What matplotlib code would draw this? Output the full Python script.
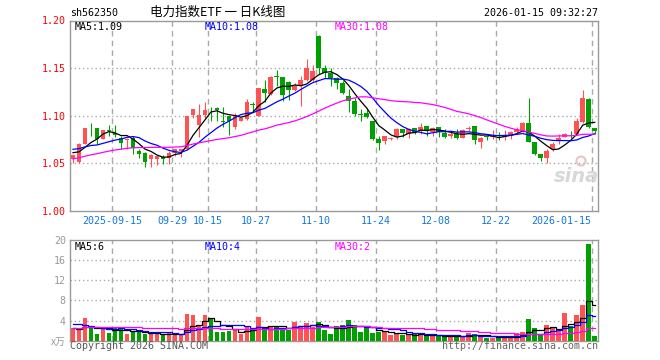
import matplotlib
matplotlib.use("Agg")
import matplotlib.pyplot as plt
from matplotlib.patches import Ellipse
import numpy as np
import pandas as pd

plt.rcParams['lines.scale_dashes'] = False

# daily K-line, 2025-09-04 .. 2026-01-15 (88 sessions)
opens = [1.0542, 1.0510, 1.0705, 1.0862, 1.0865, 1.0757, 1.0840, 1.0820, 1.0764, 1.0745,
         1.0760, 1.0628, 1.0607, 1.0540, 1.0540, 1.0562, 1.0549, 1.0611, 1.0625, 1.0650,
         1.1008, 1.0897, 1.1010, 1.1070, 1.1076, 1.0940, 1.1000, 1.0885, 1.0948, 1.0965,
         1.1118, 1.1000, 1.1278, 1.1226, 1.1408, 1.1406, 1.1358, 1.1267, 1.1323, 1.1372,
         1.1372, 1.1833, 1.1497, 1.1444, 1.1392, 1.1347, 1.1208, 1.1156, 1.1010, 1.1024,
         1.0941, 1.0753, 1.0733, 1.0753, 1.0774, 1.0854, 1.0809, 1.0868, 1.0837, 1.0889,
         1.0826, 1.0878, 1.0816, 1.0781, 1.0802, 1.0764, 1.0857, 1.0889, 1.0722, 1.0776,
         1.0774, 1.0790, 1.0774, 1.0781, 1.0826, 1.0844, 1.0920, 1.0722, 1.0594, 1.0559,
         1.0649, 1.0733, 1.0774, 1.0805, 1.0802, 1.0931, 1.1174, 1.0868]
highs = [1.0590, 1.0712, 1.0870, 1.0924, 1.0870, 1.0850, 1.0906, 1.0896, 1.0790, 1.0760,
         1.0790, 1.0650, 1.0618, 1.0595, 1.0575, 1.0587, 1.0628, 1.0650, 1.0650, 1.1000,
         1.1070, 1.1120, 1.1139, 1.1090, 1.1090, 1.1090, 1.1000, 1.1025, 1.0990, 1.1174,
         1.1140, 1.1290, 1.1370, 1.1415, 1.1476, 1.1410, 1.1360, 1.1345, 1.1417, 1.1590,
         1.1530, 1.1850, 1.1530, 1.1500, 1.1405, 1.1365, 1.1280, 1.1190, 1.1070, 1.1085,
         1.0945, 1.0788, 1.0790, 1.0774, 1.0868, 1.0858, 1.0872, 1.0870, 1.0920, 1.0892,
         1.0885, 1.0880, 1.0860, 1.0826, 1.0854, 1.0861, 1.0890, 1.0892, 1.0770, 1.0790,
         1.0844, 1.0830, 1.0850, 1.0840, 1.0878, 1.0930, 1.1184, 1.0725, 1.0597, 1.0653,
         1.0722, 1.0802, 1.0815, 1.0837, 1.0976, 1.1267, 1.1180, 1.0870]
lows = [1.0500, 1.0500, 1.0700, 1.0790, 1.0700, 1.0750, 1.0785, 1.0780, 1.0650, 1.0650,
        1.0600, 1.0550, 1.0460, 1.0455, 1.0480, 1.0490, 1.0490, 1.0570, 1.0560, 1.0640,
        1.0970, 1.0770, 1.0980, 1.0940, 1.0940, 1.0878, 1.0800, 1.0860, 1.0940, 1.0955,
        1.1035, 1.0995, 1.1140, 1.1220, 1.1313, 1.1156, 1.1163, 1.1260, 1.1097, 1.1365,
        1.1365, 1.1440, 1.1400, 1.1310, 1.1280, 1.1230, 1.1035, 1.1000, 1.0940, 1.0975,
        1.0747, 1.0642, 1.0700, 1.0740, 1.0757, 1.0774, 1.0767, 1.0802, 1.0802, 1.0785,
        1.0790, 1.0774, 1.0764, 1.0764, 1.0750, 1.0760, 1.0837, 1.0700, 1.0660, 1.0745,
        1.0750, 1.0745, 1.0740, 1.0750, 1.0809, 1.0826, 1.0720, 1.0590, 1.0524, 1.0503,
        1.0629, 1.0698, 1.0770, 1.0760, 1.0800, 1.0925, 1.0870, 1.0805]
closes = [1.0583, 1.0705, 1.0865, 1.0855, 1.0757, 1.0847, 1.0835, 1.0800, 1.0712, 1.0757,
          1.0663, 1.0594, 1.0514, 1.0590, 1.0570, 1.0545, 1.0604, 1.0646, 1.0646, 1.0993,
          1.1066, 1.1010, 1.1056, 1.1065, 1.1056, 1.0935, 1.0938, 1.1010, 1.0976, 1.1139,
          1.1115, 1.1285, 1.1236, 1.1410, 1.1404, 1.1215, 1.1267, 1.1313, 1.1372, 1.1497,
          1.1469, 1.1497, 1.1444, 1.1400, 1.1347, 1.1236, 1.1150, 1.1017, 1.1005, 1.0983,
          1.0757, 1.0712, 1.0781, 1.0757, 1.0861, 1.0816, 1.0861, 1.0816, 1.0885, 1.0837,
          1.0872, 1.0826, 1.0774, 1.0809, 1.0764, 1.0844, 1.0861, 1.0740, 1.0764, 1.0772,
          1.0781, 1.0785, 1.0798, 1.0826, 1.0861, 1.0920, 1.0722, 1.0594, 1.0559, 1.0625,
          1.0705, 1.0764, 1.0802, 1.0802, 1.0948, 1.1180, 1.0878, 1.0837]
volumes = [2.53, 2.07, 4.47, 2.60, 1.27, 2.60, 1.47, 2.47, 2.47, 1.27,
           1.80, 1.67, 1.27, 1.47, 1.47, 1.07, 1.47, 1.47, 1.27, 5.27,
           5.07, 3.00, 5.07, 4.33, 1.67, 1.67, 1.87, 2.07, 1.27, 2.80,
           2.33, 4.67, 2.13, 2.80, 2.80, 2.60, 2.13, 3.67, 3.00, 3.60,
           2.80, 3.67, 2.13, 1.30, 2.90, 3.10, 4.10, 3.10, 1.80, 2.80,
           1.60, 1.80, 1.80, 1.10, 1.45, 1.10, 1.25, 1.25, 1.25, 1.00,
           1.00, 0.92, 0.92, 0.92, 0.80, 0.92, 1.45, 1.30, 0.92, 0.60,
           0.46, 0.80, 0.67, 0.67, 1.45, 1.65, 4.30, 2.45, 1.15, 3.10,
           2.75, 2.10, 5.50, 3.00, 5.10, 7.00, 19.20, 0.92]

# sessions before the window, estimated from where the MA lines start
prior_close = [1.035, 1.038, 1.040, 1.042, 1.041, 1.044, 1.046, 1.045, 1.048, 1.050,
               1.052, 1.051, 1.054, 1.056, 1.055, 1.057, 1.058, 1.056, 1.059, 1.061,
               1.064, 1.068, 1.071, 1.070, 1.068, 1.066, 1.063, 1.060, 1.0577]
prior_vol = [1.8, 2.1, 2.5, 1.9, 2.3, 2.0, 1.7, 2.6, 2.4, 2.2,
             1.9, 2.1, 2.8, 2.3, 2.0, 2.5, 2.2, 2.4, 2.1, 2.2,
             3.8, 5.2, 4.6, 4.1, 3.65, 2.9, 2.6, 2.3, 2.32]

tick_idx = [7, 17, 23, 31, 41, 51, 61, 71, 87]
tick_labels = ['2025-09-15', '09-29', '10-15', '10-27', '11-10',
               '11-24', '12-08', '12-22', '2026-01-15']
price_ticks = [1.00, 1.05, 1.10, 1.15, 1.20]
vol_ticks = [4, 8, 12, 16, 20]

UP, DOWN = '#ff5252', '#00a000'
GRID = '#aaaaaa'
MONO = 'DejaVu Sans Mono'
FS = 7.2
W, H = 660, 360


def fx(px):
    return px / W


def fy(py):
    return 1 - py / H


n = len(closes)
x = np.arange(n)
o, c = np.array(opens), np.array(closes)
cols = [UP if cc >= oo else DOWN for oo, cc in zip(o, c)]

close_all = pd.Series(prior_close + closes)
vol_all = pd.Series(prior_vol + volumes)
ma_colors = {5: 'black', 10: '#0000ff', 30: '#ff00ff'}

fig = plt.figure(figsize=(6.6, 3.6), dpi=100)
ax1 = fig.add_axes([fx(70), fy(210.7), fx(597.7) - fx(70), fy(20.5) - fy(210.7)])
ax2 = fig.add_axes([fx(70), fy(340.7), fx(597.7) - fx(70), fy(240) - fy(340.7)])

# candles
ax1.vlines(x, lows, highs, colors=cols, lw=0.8, zorder=3)
body_h = np.maximum(np.abs(c - o), 0.0009)
ax1.bar(x, body_h, bottom=np.minimum(o, c), width=0.8, color=cols, lw=0, zorder=3)
for k, col in ma_colors.items():
    ax1.plot(x, close_all.rolling(k).mean().to_numpy()[-n:], color=col, lw=0.9, zorder=4)

# volume
ax2.bar(x, volumes, width=0.8, color=cols, lw=0, zorder=3)
for k, col in ma_colors.items():
    ax2.plot(x, vol_all.rolling(k).mean().to_numpy()[-n:], color=col, lw=0.9,
             drawstyle='steps-mid', zorder=4)

for ax, ylim, hgrid in [(ax1, (1.0, 1.2), price_ticks[1:-1]), (ax2, (0, 20), vol_ticks[:-1])]:
    ax.set_xlim(-0.5, n - 0.5)
    ax.set_ylim(*ylim)
    for yv in hgrid:
        ax.axhline(yv, color=GRID, lw=1, ls=(0, (1, 2)), zorder=1)
    for i in tick_idx:
        ax.axvline(i - 0.5, color=GRID, lw=1, ls=(0, (4, 3)), zorder=1)
    for sp in ax.spines.values():
        sp.set_color('#999999')
        sp.set_linewidth(1)
    ax.tick_params(length=0)

ax1.set_yticks(price_ticks)
ax1.set_yticklabels([f'{v:.2f}' for v in price_ticks], color='red', fontsize=FS, family=MONO)
ax1.tick_params(axis='y', pad=3)
ax1.set_xticks([i - 0.5 for i in tick_idx])
ax1.set_xticklabels(tick_labels, color='#1177dd', fontsize=FS, family=MONO)
ax1.tick_params(axis='x', pad=4)
ax1.get_xticklabels()[-1].set_ha('right')

ax2.set_yticks(vol_ticks)
ax2.set_yticklabels([str(v) for v in vol_ticks], color='#999999', fontsize=FS, family=MONO)
ax2.tick_params(axis='y', pad=3)
ax2.set_xticks([])

# header texts
fig.text(fx(70), fy(13), 'sh562350', fontsize=FS, family=MONO, va='center')
fig.text(fx(150), fy(12.5), '电力指数ETF 一 日K线图', fontsize=9,
         family=['Noto Sans CJK SC', 'DejaVu Sans'], va='center')
fig.text(fx(597.7), fy(13), '2026-01-15 09:32:27', fontsize=FS, family=MONO,
         va='center', ha='right')

for px, txt, col in [(75, 'MA5:1.09', 'black'), (205, 'MA10:1.08', '#0000ff'),
                     (335, 'MA30:1.08', '#ff00ff')]:
    fig.text(fx(px), fy(26.5), txt, color=col, fontsize=FS, family=MONO, va='center')
for px, txt, col in [(75, 'MA5:6', 'black'), (205, 'MA10:4', '#0000ff'),
                     (335, 'MA30:2', '#ff00ff')]:
    fig.text(fx(px), fy(246.5), txt, color=col, fontsize=FS, family=MONO, va='center')

fig.text(fx(66), fy(342), 'x万', color='#999999', fontsize=FS,
         family=['Noto Sans CJK SC', 'DejaVu Sans'], va='center', ha='right')
fig.text(fx(70), fy(346), 'Copyright 2026 SINA.COM', color='#555555', fontsize=FS,
         family=MONO, va='center')
fig.text(fx(597.7), fy(346), 'http://finance.sina.com.cn', color='#666666', fontsize=FS,
         family=MONO, va='center', ha='right')

# watermark: faint "sina" with the eye ring above it
fig.text(fx(576), fy(177), 'sina', color='#d8d8d8', fontsize=14, style='italic',
         weight='bold', ha='center', va='center')
fig.add_artist(Ellipse((fx(581), fy(161)), 9 / W, 9 / H, transform=fig.transFigure,
                       fill=False, ec='#e8c4c4', lw=1.5))

fig.savefig('out.png', dpi=100)
